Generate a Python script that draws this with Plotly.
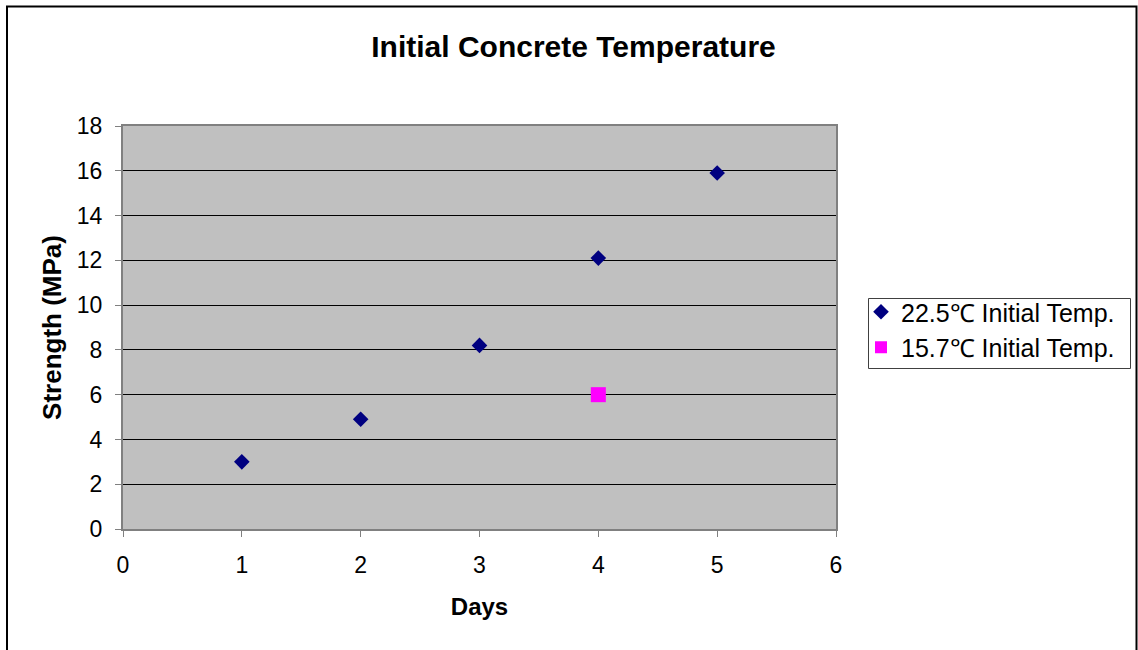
import plotly.graph_objects as go

days_a = [1, 2, 3, 4, 5]
strength_a = [3.0, 4.9, 8.2, 12.1, 15.9]
days_b = [4]
strength_b = [6.0]
name_a = "22.5\u2103 Initial Temp."
name_b = "15.7\u2103 Initial Temp."

L, R, T, B = 123, 302, 126, 121
W, H = 1138, 650
pw, ph = W - L - R, H - T - B

def px_x(px):
    return (px - L) / pw

def px_y(py):
    return (H - B - py) / ph

fig = go.Figure()
fig.add_trace(go.Scatter(x=days_a, y=strength_a, mode="markers", name=name_a,
                         marker=dict(symbol="diamond", size=12, color="#000080")))
fig.add_trace(go.Scatter(x=days_b, y=strength_b, mode="markers", name=name_b,
                         marker=dict(symbol="square", size=15, color="#FF00FF")))

font = "Liberation Sans, Arial, sans-serif"
fig.update_layout(
    width=W, height=H,
    margin=dict(l=L, r=R, t=T, b=B),
    paper_bgcolor="white",
    plot_bgcolor="#C0C0C0",
    font=dict(family=font, size=23, color="black"),
    title=dict(text="<b>Initial Concrete Temperature</b>", x=573.5 / W, xref="container",
               xanchor="center", y=1 - 46 / H, yanchor="middle", font=dict(size=30)),
    showlegend=True,
    legend=dict(x=px_x(861), y=px_y(289), xanchor="left", yanchor="top",
                borderwidth=0, bgcolor="rgba(0,0,0,0)",
                font=dict(size=25), itemsizing="constant", tracegroupgap=0,
                itemwidth=30),
    shapes=[dict(type="rect", xref="paper", yref="paper",
                 x0=px_x(7), x1=px_x(1136.5), y0=px_y(6.5), y1=px_y(700),
                 line=dict(color="black", width=2), fillcolor="rgba(0,0,0,0)",
                 layer="below"),
            dict(type="rect", xref="paper", yref="paper",
                 x0=px_x(868.5), x1=px_x(1130.5), y0=px_y(298.5), y1=px_y(368.5),
                 line=dict(color="#404040", width=1), fillcolor="white",
                 layer="below")],
)
fig.update_xaxes(range=[0, 6], dtick=1, showgrid=False, zeroline=False,
                 showline=True, linecolor="#808080", linewidth=2, mirror=True,
                 ticks="outside", ticklen=6, tickcolor="#808080", tickwidth=1,
                 ticklabelstandoff=8,
                 title=dict(text="<b>Days</b>", font=dict(size=24), standoff=22))
fig.update_yaxes(range=[0, 18], dtick=2, showgrid=True, gridcolor="black", gridwidth=1,
                 zeroline=False, showline=True, linecolor="#808080", linewidth=2, mirror=True,
                 ticks="outside", ticklen=6, tickcolor="#808080", tickwidth=1,
                 ticklabelstandoff=8,
                 title=dict(text="<b>Strength (MPa)</b>", font=dict(size=26), standoff=8))
fig.write_html("out.html")
